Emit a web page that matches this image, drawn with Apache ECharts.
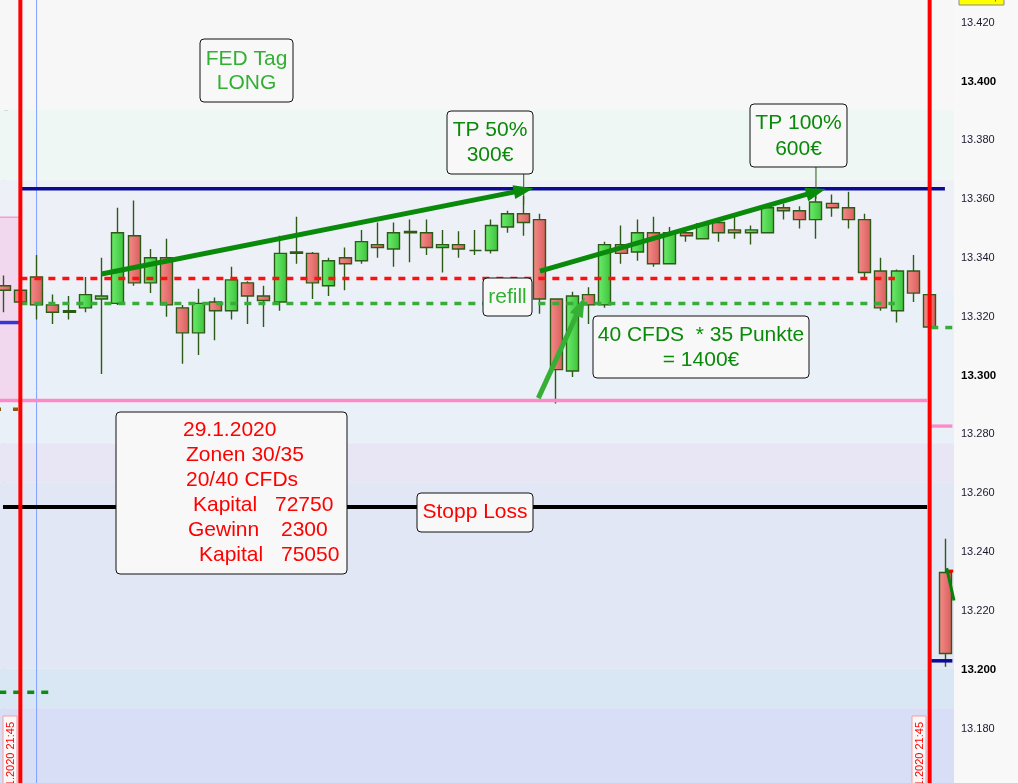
<!DOCTYPE html>
<html><head><meta charset="utf-8">
<script src="https://cdn.jsdelivr.net/npm/echarts@6/dist/echarts.min.js"></script>
<style>html,body{margin:0;padding:0;background:#f8f8f8;overflow:hidden}#c{width:1018px;height:783px;}</style>
</head><body><div id="c"></div>
<script>
// ---- categories (15-min candles) ----
const categories = ['28.01. 21:30','28.01. 21:45',
'08:00','08:15','08:30','08:45','09:00','09:15','09:30','09:45','10:00','10:15','10:30','10:45',
'11:00','11:15','11:30','11:45','12:00','12:15','12:30','12:45','13:00','13:15','13:30','13:45',
'14:00','14:15','14:30','14:45','15:00','15:15','15:30','15:45','16:00','16:15','16:30','16:45',
'17:00','17:15','17:30','17:45','18:00','18:15','18:30','18:45','19:00','19:15','19:30','19:45',
'20:00','20:15','20:30','20:45','21:00','21:15','21:30','21:45','30.01. 08:00'];

// ---- OHLC values ----
const openV  = [13330.5,13329.0,13333.5,13324.0,13321.5,13323.0,13326.0,13324.5,13347.5,13331.5,
13340.0,13323.0,13314.5,13325.0,13322.0,13331.5,13327.0,13325.0,13341.5,13341.5,
13330.5,13340.0,13339.0,13344.5,13343.0,13348.5,13348.5,13343.5,13344.5,13342.5,
13342.5,13350.5,13355.0,13353.0,13326.0,13301.5,13327.5,13324.0,13344.5,13342.0,
13348.5,13338.0,13348.5,13346.5,13352.0,13349.5,13348.5,13348.5,13357.0,13356.0,
13353.0,13358.5,13357.0,13353.0,13335.5,13322.0,13335.5,13327.5,13233.0];
const closeV = [13329.0,13325.0,13324.0,13321.5,13322.0,13327.5,13327.0,13348.5,13331.5,13340.0,
13324.0,13314.5,13324.5,13322.0,13332.5,13327.0,13325.5,13341.5,13342.0,13331.5,
13339.0,13338.0,13345.5,13343.5,13348.5,13349.0,13343.5,13344.5,13343.0,13342.5,
13351.0,13355.0,13352.0,13326.0,13302.0,13327.0,13324.0,13344.5,13341.5,13348.5,
13338.0,13348.5,13347.5,13351.5,13348.5,13348.5,13349.5,13357.0,13356.0,13353.0,
13359.0,13357.0,13353.0,13335.0,13323.0,13335.5,13328.0,13316.5,13205.5];
const lowV   = [13321.5,13324.5,13319.0,13317.5,13319.0,13321.5,13300.5,13324.0,13330.5,13328.0,
13320.0,13304.0,13307.0,13312.0,13319.0,13317.5,13316.5,13322.0,13338.0,13326.0,
13327.0,13329.0,13338.0,13340.0,13337.0,13338.5,13341.0,13335.0,13340.0,13341.0,
13341.5,13348.5,13347.5,13321.0,13290.5,13299.5,13317.5,13323.0,13338.0,13339.0,
13337.0,13338.0,13345.5,13346.5,13345.5,13346.5,13344.5,13348.5,13353.0,13350.0,
13346.5,13354.0,13350.0,13332.5,13322.0,13318.0,13325.0,13316.0,13201.0];
const highV  = [13334.0,13329.5,13341.0,13327.5,13327.0,13333.5,13340.0,13357.0,13359.5,13343.0,
13346.5,13324.0,13329.5,13326.5,13337.0,13332.0,13330.5,13347.5,13354.0,13342.0,
13340.0,13343.5,13349.5,13352.0,13352.0,13353.0,13353.0,13349.5,13349.0,13349.5,
13353.0,13356.0,13361.0,13355.0,13326.0,13328.5,13330.0,13345.5,13351.0,13353.0,
13354.0,13350.5,13349.5,13352.0,13352.0,13355.0,13351.0,13358.5,13358.5,13357.5,
13362.0,13361.5,13362.5,13355.0,13340.0,13336.0,13341.0,13327.5,13244.5];

// ---- y tick labels ----
const yTickValues = [13180,13200,13220,13240,13260,13280,13300,13320,13340,13360,13380,13400,13420];
const yTickLabels = ['13.180','13.200','13.220','13.240','13.260','13.280','13.300','13.320','13.340','13.360','13.380','13.400','13.420'];

// ---- background zone edges (price) ----
const bandEdges = [13427.65,13390.2,13366.4,13329.0,13277.0,13263.7,13200.4,13186.9,13160];

// ---- drawn levels / lines [index, price] ----
const navyLevel      = [[1,13363.5],[57.94,13363.5]];
const redDashLevel   = [[1,13333.0],[54.86,13333.0]];
const greenDashLevel = [[1,13324.5],[54.86,13324.5]];
const pinkLevel      = [[-0.5,13291.5],[56.85,13291.5]];
const stopLevel      = [[-0.07,13255.3],[56.85,13255.3]];
const oldGreenDash   = [[-0.3,13192.3],[2.95,13192.3]];
const oldBlueLevel   = [[-0.5,13318.0],[0.95,13318.0]];
const oldBrownLevel  = [[-0.5,13288.5],[0.95,13288.5]];
const oldPinkZone    = [[-0.5,13353.8],[0.95,13291.3]];
const oldPinkTop     = [[-0.5,13353.8],[0.95,13353.8]];
const newGreenDash   = [[57.1,13316.3],[58.4,13316.3]];
const newPinkLevel   = [[57.1,13282.8],[58.4,13282.8]];
const newNavyLevel   = [[57.1,13203.0],[58.4,13203.0]];
const dayLineLeft    = [[1,13150],[1,13440]];
const dayLineRight   = [[57,13150],[57,13440]];
const cursorLine     = [[2,13150],[2,13440]];
const tp50Callout    = [[32,13358],[32,13368.5]];
const tp100Callout   = [[50,13360],[50,13370.9]];
const indRed         = [[58,13233.5],[58.45,13233.5]];
const indGreen       = [[58.05,13234.5],[58.5,13223.5]];
// arrows
const arrow1 = [[6,13334.5],[32,13363.0]];
const arrow2 = [[33,13335.5],[50,13362.5]];
const arrow3 = [[32.9,13292.3],[35.5,13323.5]];

// ---------- build ----------
const candleData = openV.map((o,i)=>[o, closeV[i], lowV[i], highV[i]]);
const bandColors = ['#f7f7f7','#eff7f5','#eef0f8','#e9f0f7','#e8e6f5','#e2e7f5','#d9e7f5','#d8def5'];
const bandAreas = [];
for (let i=0;i<bandEdges.length-1;i++){
  bandAreas.push([{coord:[-0.5,bandEdges[i]], itemStyle:{color:bandColors[i]}},{coord:[58.5,bandEdges[i+1]]}]);
}
bandAreas.push([{coord:oldPinkZone[0], itemStyle:{color:'#f2d8ee'}},{coord:oldPinkZone[1]}]);

function seg(data, color, width, type, z){
  return {type:'line', xAxisIndex:1, yAxisIndex:0, data:data, symbol:'none', silent:true,
    z:z||3, animation:false, lineStyle:{color:color, width:width, type:type||'solid', cap:'butt'}};
}
function arrowItem(a){
  return [{coord:a[0], symbol:'none'},{coord:a[1], symbol:'triangle', symbolSize:[14,20]}];
}

const FONT = '"Liberation Sans", Arial, sans-serif';
function fmtY(v){
  const k = yTickValues.indexOf(Math.round(v));
  if (k<0) return '';
  return (Math.round(v)%100===0) ? '{b|'+yTickLabels[k]+'}' : yTickLabels[k];
}
const up = {type:'linear',x:0,y:0,x2:1,y2:0,colorStops:[{offset:0,color:'#6ded6d'},{offset:1,color:'#3cc23c'}]};
const down = {type:'linear',x:0,y:0,x2:1,y2:0,colorStops:[{offset:0,color:'#f58c8a'},{offset:1,color:'#d85e5c'}]};

function box(x,y,w,h){
  return {type:'rect', z:100, shape:{x:x,y:y,width:w,height:h,r:4}, style:{fill:'#f8f8f8',stroke:'#111',lineWidth:1}};
}
function txt(t,x,y,color,align){
  return {type:'text', z:101, style:{text:t, x:x, y:y, fill:color, font:'21px '+FONT,
    align:align||'center', textAlign:align||'center', verticalAlign:'middle', textVerticalAlign:'middle'}};
}
function vlabel(t,x,y){
  return {type:'text', z:101, x:x, y:y, rotation:Math.PI/2,
    style:{text:t, x:0, y:0, fill:'#ff0000', font:'11px '+FONT, align:'right', textAlign:'right', verticalAlign:'middle', textVerticalAlign:'middle'}};
}
const DG = '#0a8a0a', LG = '#32b032', RD = '#ff0000';

const graphics = [
  box(200,39,93,63), txt('FED Tag',246.5,59,LG), txt('LONG',246.5,83,LG),
  box(447,111,86,63), txt('TP 50%',490,130,DG), txt('300€',490,155,DG),
  box(750,104,97,63), txt('TP 100%',798.5,123,DG), txt('600€',798.5,149,DG),
  box(483,278,49,38), txt('refill',507.5,297,LG),
  box(593,316,216,62), txt('40 CFDS  * 35 Punkte',701,335,DG), txt('= 1400€',701,360,DG),
  box(116,412,231,162),
  txt('29.1.2020',183,430.5,RD,'left'),
  txt('Zonen 30/35',186,455.5,RD,'left'),
  txt('20/40 CFDs',186,480.5,RD,'left'),
  txt('Kapital',193,505,RD,'left'), txt('72750',275,505,RD,'left'),
  txt('Gewinn',188,530,RD,'left'), txt('2300',281,530,RD,'left'),
  txt('Kapital',199,555,RD,'left'), txt('75050',281,555,RD,'left'),
  box(417,493,116,39), txt('Stopp Loss',475,512,RD),
  {type:'rect', z:100, shape:{x:3,y:716,width:14,height:90}, style:{fill:'#f8f8f8',stroke:'#f4a0a0',lineWidth:1}},
  vlabel('28.01.2020 21:45',11,722),
  {type:'rect', z:100, shape:{x:912,y:716,width:14,height:90}, style:{fill:'#f8f8f8',stroke:'#f4a0a0',lineWidth:1}},
  vlabel('29.01.2020 21:45',920,722),
  {type:'rect', z:100, shape:{x:959,y:-14,width:45,height:19}, style:{fill:'#ffff00',stroke:'#8a8a8a',lineWidth:1}},
  {type:'text', z:101, style:{text:'13.425,8', x:981.5, y:-3, fill:'#222', font:'11px '+FONT, align:'center', textAlign:'center', verticalAlign:'middle', textVerticalAlign:'middle'}}
];

const chart = echarts.init(document.getElementById('c'), null, {renderer:'canvas'});
chart.setOption({
  backgroundColor:'#f8f8f8',
  animation:false,
  grid:{left:-4, top:0, width:958, height:787.3, containLabel:false, outerBoundsMode:'none'},
  xAxis:[
    {type:'category', data:categories, boundaryGap:true, show:false},
    {type:'value', min:-0.5, max:58.5, show:false}
  ],
  yAxis:{type:'value', position:'right', min:13160, max:13427.65, interval:20,
    axisLine:{show:true, lineStyle:{color:'#8d9bab', width:1}},
    axisTick:{show:true, length:5, lineStyle:{color:'#666'}},
    minorTick:{show:true, splitNumber:2, length:4, lineStyle:{color:'#666'}},
    splitLine:{show:false}, minorSplitLine:{show:false},
    axisLabel:{showMaxLabel:false, margin:7, color:'#1a1a30', fontSize:11, fontFamily:FONT,
      formatter:fmtY, rich:{b:{fontWeight:'bold', fontSize:11.5, color:'#000', fontFamily:FONT}}}
  },
  graphic:{elements:graphics},
  series:[
    {type:'line', xAxisIndex:1, yAxisIndex:0, data:[], z:0, silent:true,
      markArea:{silent:true, data:bandAreas}},
    seg(cursorLine,'#80a0ff',1,'solid',1),
    {type:'candlestick', xAxisIndex:0, yAxisIndex:0, z:2, barWidth:12.5, data:candleData, silent:true,
      itemStyle:{color:up, color0:down, borderColor:'#2d5a16', borderColor0:'#2d5a16', borderColorDoji:'#2d5a16', borderWidth:1.4}},
    seg(oldPinkTop,'#f0a0d0',1.5,'solid',3),
    seg(navyLevel,'#0a0a96',3.5),
    seg(redDashLevel,'#ff1010',3.5,[7,7]),
    seg(greenDashLevel,'#3aaa3a',3.5,[7,7]),
    seg(pinkLevel,'#ff88c8',3.3),
    seg(stopLevel,'#000000',4),
    seg(oldGreenDash,'#118a11',3.5,[7,7]),
    seg(oldBlueLevel,'#3838d0',3.5),
    seg(oldBrownLevel,'#8a5a10',3.5,[5,12]),
    seg(newGreenDash,'#3aaa3a',3.5,[7,7]),
    seg(newPinkLevel,'#ff88c8',3.3),
    seg(newNavyLevel,'#0a0a96',3.5),
    seg(tp50Callout,'#2d5a16',1),
    seg(tp100Callout,'#2d5a16',1),
    seg(indRed,'#ff0000',3,'solid',4),
    seg(indGreen,'#0a800a',3,'solid',4),
    seg(dayLineLeft,'#ff0000',4,'solid',5),
    seg(dayLineRight,'#ff0000',4,'solid',5),
    {type:'line', xAxisIndex:1, yAxisIndex:0, data:[], z:6, silent:true,
      markLine:{silent:true, animation:false, label:{show:false}, emphasis:{disabled:true},
        lineStyle:{color:DG, width:5, type:'solid'},
        data:[arrowItem(arrow1), arrowItem(arrow2),
          [{coord:arrow3[0], symbol:'none', lineStyle:{color:'#35b035', width:5}},{coord:arrow3[1], symbol:'triangle', symbolSize:[14,20]}]]}}
  ]
});
</script></body></html>
